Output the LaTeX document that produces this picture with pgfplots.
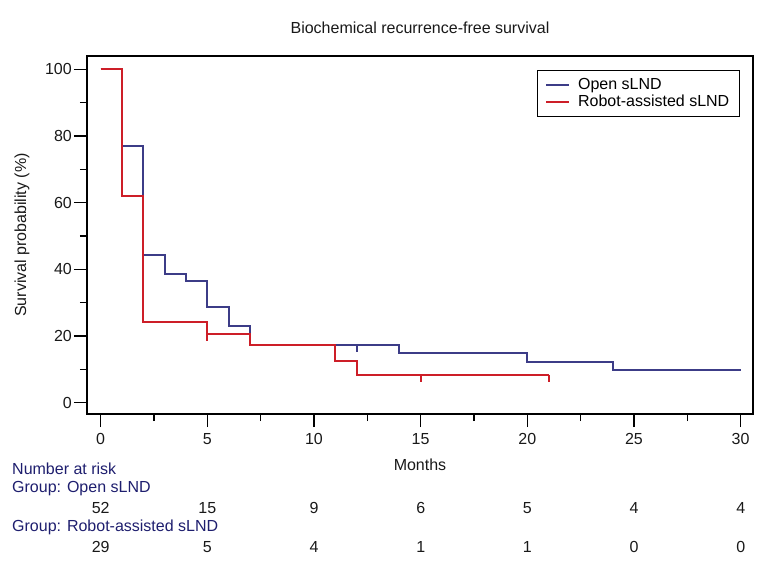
\documentclass[border=0pt]{standalone}
\usepackage{fontspec}
\setmainfont{Liberation Sans}
\usepackage{pgfplots}
\pgfplotsset{compat=1.18}
\definecolor{kmblue}{RGB}{60,60,135}
\definecolor{kmred}{RGB}{205,30,40}
\definecolor{navytext}{RGB}{30,30,110}
\definecolor{ticktext}{RGB}{25,25,25}
\begin{document}
\begin{tikzpicture}[x=1pt,y=1pt,font=\fontsize{16}{19}\selectfont]
\path[use as bounding box] (0,0) rectangle (765,568);
\begin{axis}[
  at={(87pt,154pt)}, anchor=south west,
  scale only axis, width=666pt, height=358pt,
  xmin=-0.64, xmax=30.58, ymin=-3.4, ymax=104,
  xtick={0,5,...,30}, ytick={0,20,...,100},
  minor x tick num=1, minor y tick num=1,
  xtick pos=bottom, ytick pos=left,
  tick align=outside, major tick length=13pt, minor tick length=7pt,
  every tick/.style={black, line width=1.5pt},
  axis line style={black, line width=1.8pt},
  /pgf/number format/assume math mode=true,
  tick label style={font=\fontsize{16}{19}\selectfont, text=ticktext},
  yticklabel style={anchor=east, inner sep=0pt, xshift=-2pt},
  xticklabel style={yshift=-3pt},
  every axis title/.style={at={(axis description cs:0.5,1.078)}, anchor=center, font=\fontsize{16}{19}\selectfont, text=ticktext},
  title={Biochemical recurrence-free survival},
  every axis x label/.style={at={(axis description cs:0.5,-0.1425)}, anchor=center, font=\fontsize{16}{19}\selectfont, text=ticktext},
  xlabel={Months},
  every axis y label/.style={at={(axis description cs:-0.0976,0.5)}, rotate=90, anchor=center, font=\fontsize{16}{19}\selectfont, text=ticktext},
  ylabel={Survival probability (\%)},
  legend style={at={(axis description cs:0.9805,0.961)}, anchor=north east, draw=black, line width=1.4pt,
    font=\fontsize{16}{19}\selectfont, inner xsep=8pt, inner ysep=6pt, row sep=0pt},
  legend cell align=left,
  legend image code/.code={\draw[#1] (0pt,0pt) -- (23pt,0pt); \path (29pt,0pt);},
  clip=false,
]
\addplot[const plot, kmblue, line width=1.8pt] coordinates {
(0,100) (1,76.9) (2,44.2) (3,38.5) (4,36.5) (5,28.8) (6,23.1) (7,17.3) (14,14.8) (20,12.3) (24,9.9) (30,9.9)};
\addlegendentry{Open sLND}
\addplot[const plot, kmred, line width=1.8pt] coordinates {
(0,100) (1,62.1) (2,24.1) (5,20.7) (7,17.2) (11,12.6) (12,8.3) (21,8.3)};
\addlegendentry{Robot-assisted sLND}
% censor marks
\addplot[kmblue, line width=1.8pt, forget plot] coordinates {(12,17.3) (12,15.2)};
\addplot[kmred, line width=1.8pt, forget plot] coordinates {(5,20.7) (5,18.6)};
\addplot[kmred, line width=1.8pt, forget plot] coordinates {(15,8.3) (15,6.2)};
\addplot[kmred, line width=1.8pt, forget plot] coordinates {(21,8.3) (21,6.2)};
\end{axis}
% number at risk table
\node[anchor=west, inner sep=0pt, text=navytext] at (12,99) {Number at risk};
\node[anchor=west, inner sep=0pt, text=navytext] at (12,79) {Group: Open sLND};
\node[anchor=west, inner sep=0pt, text=navytext] at (12,41) {Group: Robot-assisted sLND};
\foreach \n [count=\i from 0] in {52,15,9,6,5,4,4} {
  \node[inner sep=0pt, text=ticktext] at ({100.7+106.67*\i},60) {\n};
}
\foreach \n [count=\i from 0] in {29,5,4,1,1,0,0} {
  \node[inner sep=0pt, text=ticktext] at ({100.7+106.67*\i},21) {\n};
}
\end{tikzpicture}
\end{document}
